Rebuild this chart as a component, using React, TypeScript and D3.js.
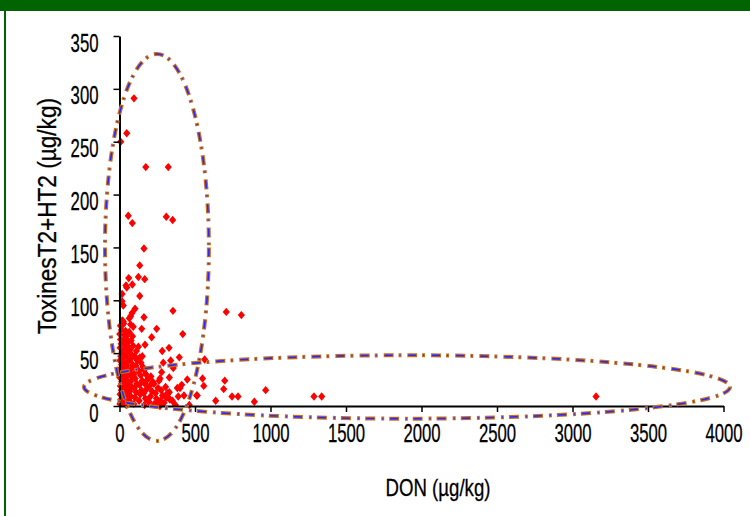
import React, { useEffect, useRef } from 'react';
import * as d3 from 'd3';

const xTicks = [0, 500, 1000, 1500, 2000, 2500, 3000, 3500, 4000];
const yTicks = [0, 50, 100, 150, 200, 250, 300, 350];

// [DON, T2+HT2] in µg/kg
const outliers: [number, number][] = [
  [96, 291], [48, 258], [8, 250], [174, 226], [323, 226], [58, 180], [85, 173],
  [310, 179], [352, 176], [162, 149], [134, 133], [61, 121], [125, 122], [167, 120],
  [43, 114], [85, 115], [48, 112], [17, 106], [134, 104], [17, 99], [25, 95],
  [103, 92], [354, 90], [707, 89], [807, 86], [83, 88], [74, 85], [162, 84],
  [65, 83], [25, 80], [21, 77], [74, 77], [91, 75], [147, 73], [246, 73],
  [419, 68], [213, 65], [169, 58], [283, 52], [328, 55], [396, 46], [339, 43],
  [151, 47], [564, 44], [550, 26], [697, 24], [558, 19], [690, 16], [968, 15],
  [637, 5], [745, 9], [785, 9], [893, 4], [1288, 9], [1339, 9], [3156, 9],
  [449, 25], [401, 17], [511, 10], [323, 8], [268, 0], [462, 1],
  [290, 41], [356, 36], [279, 32], [330, 27], [268, 26], [383, 17], [412, 20],
  [427, 10], [515, 10], [317, 12], [334, 6], [389, 9], [246, 3],
];

const cluster: [number, number][] = [
  [3, 2], [8, 6], [4, 11], [12, 15], [6, 19], [15, 23], [2, 27], [10, 31], [5, 35], [14, 39],
  [3, 43], [9, 47], [16, 51], [4, 55], [11, 59], [7, 63], [2, 68], [13, 72], [6, 76], [18, 81],
  [25, 3], [30, 9], [22, 13], [28, 18], [35, 22], [24, 27], [32, 31], [27, 36], [37, 40], [23, 45],
  [34, 49], [29, 54], [38, 58], [26, 62], [33, 67], [40, 71], [28, 78],
  [45, 1], [50, 7], [55, 12], [47, 16], [58, 20], [44, 25], [53, 29], [60, 33], [48, 38], [56, 42],
  [46, 47], [62, 52], [51, 57], [59, 61], [45, 66], [64, 70],
  [70, 4], [76, 9], [68, 14], [80, 18], [73, 23], [85, 27], [67, 31], [78, 35], [88, 39], [72, 44],
  [83, 48], [69, 53], [90, 57], [77, 62], [86, 66],
  [95, 2], [102, 8], [110, 13], [98, 17], [115, 21], [104, 26], [96, 30], [120, 34], [108, 38],
  [118, 43], [100, 47], [112, 52], [125, 56],
  [130, 5], [138, 11], [145, 15], [132, 20], [150, 24], [140, 29], [128, 33], [155, 37], [142, 41], [135, 46],
  [165, 1], [172, 7], [160, 12], [180, 16], [168, 21], [185, 25], [175, 30], [162, 34],
  [195, 4], [205, 9], [215, 14], [200, 19], [220, 23], [208, 28],
  [230, 2], [245, 7], [238, 12], [255, 17], [228, 21],
  [270, 5], [285, 10], [275, 15], [295, 3], [310, 8], [330, 13], [350, 5], [370, 1], [305, 18], [262, 24],
];

// annotation ellipses, in data units
const ellipses = [
  { cx: 248, cy: 150, rx: 344, ry: 183 },
  { cx: 1904, cy: 18, rx: 2139, ry: 30 },
];

const font = '"Liberation Sans", Arial, sans-serif';

const App = () => {
  const svgRef = useRef<SVGSVGElement>(null);

  useEffect(() => {
    const svg = d3.select(svgRef.current);
    svg.selectAll('*').remove();

    const x = d3.scaleLinear().domain([0, 4000]).range([119.5, 723.5]);
    const y = d3.scaleLinear().domain([0, 350]).range([406, 36]);

    // frame
    svg.append('rect').attr('x', 0).attr('y', 0).attr('width', 750).attr('height', 11).attr('fill', '#006400');
    svg.append('rect').attr('x', 4).attr('y', 0).attr('width', 2).attr('height', 516).attr('fill', '#006400');

    // points
    const diamond = 'M0,-4.2L3.6,0L0,4.2L-3.6,0Z';
    svg.append('g')
      .selectAll('path')
      .data([...cluster, ...outliers])
      .join('path')
      .attr('d', diamond)
      .attr('transform', d => `translate(${x(d[0])},${y(d[1])})`)
      .attr('fill', '#ff0000');

    // axes
    const fmt = d3.format('d');
    const yAxis = svg.append('g')
      .attr('transform', `translate(${x(0)},0)`)
      .call(d3.axisLeft(y).tickValues(yTicks).tickFormat(fmt).tickSize(6).tickSizeOuter(0).tickPadding(15));
    const xAxis = svg.append('g')
      .attr('transform', `translate(0,${y(0)})`)
      .call(d3.axisBottom(x).tickValues(xTicks).tickFormat(fmt).tickSize(6).tickSizeOuter(0).tickPadding(12));

    [yAxis, xAxis].forEach(g => {
      g.select('.domain').attr('stroke', '#000').attr('stroke-width', 2);
      g.selectAll('.tick line').attr('stroke', '#000').attr('stroke-width', 1.5);
      g.selectAll('.tick text')
        .attr('font-family', font)
        .attr('font-size', 25)
        .attr('fill', '#000')
        .attr('stroke', '#000')
        .attr('stroke-width', 0.3)
        .attr('lengthAdjust', 'spacingAndGlyphs')
        .attr('textLength', (d: any) => String(d).length * 9.3);
    });
    yAxis.selectAll('.tick text').attr('dy', '0.6em');

    // ellipses: orange dash-dot with blue core
    const eg = svg.append('g').attr('fill', 'none');
    ['#c8701e', '#2828ff'].forEach((c, i) => {
      eg.selectAll(`ellipse.e${i}`)
        .data(ellipses)
        .join('ellipse')
        .attr('class', `e${i}`)
        .attr('cx', d => x(d.cx))
        .attr('cy', d => y(d.cy))
        .attr('rx', d => x(d.rx) - x(0))
        .attr('ry', d => y(0) - y(d.ry))
        .attr('stroke', c)
        .attr('stroke-width', i === 0 ? 4 : 1.6)
        .attr('stroke-dasharray', i === 0 ? '10 5 3 6' : '8 7 1 8')
        .attr('stroke-dashoffset', i === 0 ? 0 : -1);
    });

    // axis titles
    svg.append('text')
      .attr('transform', 'translate(56,216) rotate(-90)')
      .attr('text-anchor', 'middle')
      .attr('font-family', font)
      .attr('font-size', 25)
      .attr('stroke', '#000')
      .attr('stroke-width', 0.3)
      .attr('textLength', 236)
      .attr('lengthAdjust', 'spacingAndGlyphs')
      .text('ToxinesT2+HT2 (µg/kg)');

    svg.append('text')
      .attr('x', 438)
      .attr('y', 496)
      .attr('text-anchor', 'middle')
      .attr('font-family', font)
      .attr('font-size', 24)
      .attr('stroke', '#000')
      .attr('stroke-width', 0.3)
      .attr('textLength', 105)
      .attr('lengthAdjust', 'spacingAndGlyphs')
      .text('DON (µg/kg)');
  }, []);

  return (
    <svg ref={svgRef} width={750} height={516} style={{ position: 'absolute', left: 0, top: 0, background: '#fff' }}></svg>
  );
};

export default App;
